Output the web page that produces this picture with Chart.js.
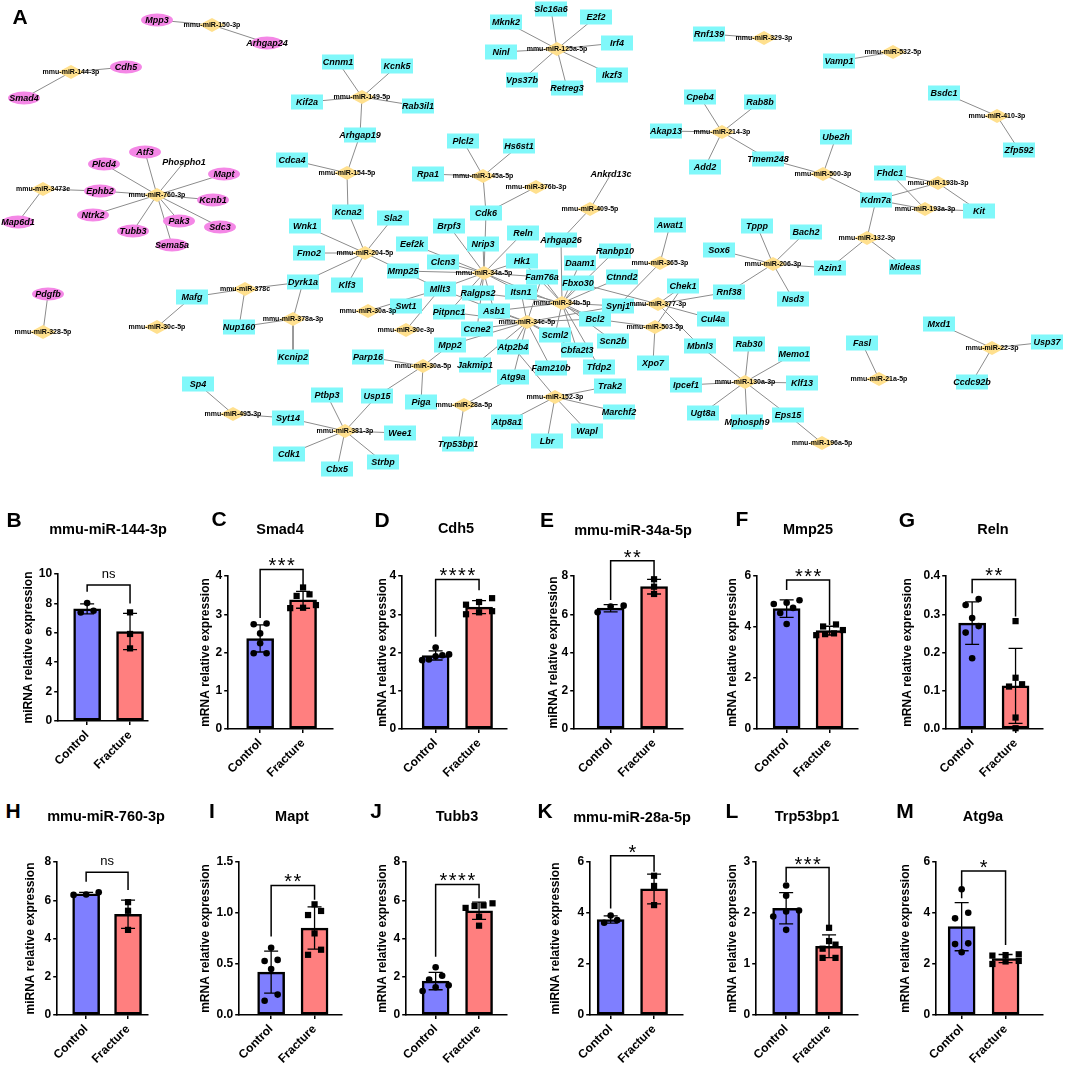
<!DOCTYPE html>
<html>
<head>
<meta charset="utf-8">
<title>miRNA-mRNA network and qPCR</title>
<script src="https://cdn.jsdelivr.net/npm/chart.js@4.4.1/dist/chart.umd.min.js"></script>
<style>
  body { margin: 0; background: #fff; }
  #page { position: relative; width: 1065px; height: 1066px; overflow: hidden; background: #fff; }
  #page canvas { position: absolute; }
  .letter { position: absolute; font: bold 21px Arial, "Liberation Sans", sans-serif; line-height: 1; transform: translate(-50%, -50%); }
  .title { position: absolute; font: bold 14.5px Arial, "Liberation Sans", sans-serif; line-height: 1; white-space: nowrap; transform: translate(-50%, -50%); }
</style>
</head>
<body>
<div id="page">
  <canvas id="network" width="1065" height="490" style="left:0;top:0"></canvas>
  <div class="letter" style="left:20px;top:16px">A</div>
</div>
<script>
const FONT = 'Arial, "Liberation Sans", sans-serif';
Chart.defaults.font.family = FONT;
Chart.defaults.color = "#000";

// ---- panel A: network layout (node positions in layout units) ----
const mirNodes = {
  "mmu-miR-150-3p": [212, 25], "mmu-miR-144-3p": [71, 72], "mmu-miR-3473e": [43, 189],
  "mmu-miR-760-3p": [157, 195], "mmu-miR-328-5p": [43, 332], "mmu-miR-30c-5p": [157, 327],
  "mmu-miR-378c": [245, 289], "mmu-miR-378a-3p": [293, 319], "mmu-miR-495-3p": [233, 414],
  "mmu-miR-381-3p": [345, 431], "mmu-miR-149-5p": [362, 97], "mmu-miR-154-5p": [347, 173],
  "mmu-miR-204-5p": [365, 253], "mmu-miR-30a-3p": [368, 311], "mmu-miR-30e-3p": [406, 330],
  "mmu-miR-30a-5p": [423, 366], "mmu-miR-28a-5p": [464, 405], "mmu-miR-125a-5p": [557, 49],
  "mmu-miR-145a-5p": [483, 176], "mmu-miR-376b-3p": [536, 187], "mmu-miR-409-5p": [590, 209],
  "mmu-miR-34a-5p": [484, 273], "mmu-miR-34b-5p": [562, 303], "mmu-miR-34c-5p": [527, 322],
  "mmu-miR-152-3p": [555, 397], "mmu-miR-365-3p": [660, 263], "mmu-miR-377-3p": [658, 304],
  "mmu-miR-503-5p": [655, 327], "mmu-miR-329-3p": [764, 38], "mmu-miR-532-5p": [893, 52],
  "mmu-miR-410-3p": [997, 116], "mmu-miR-214-3p": [722, 132], "mmu-miR-500-3p": [823, 174],
  "mmu-miR-193b-3p": [938, 183], "mmu-miR-193a-3p": [925, 209], "mmu-miR-132-3p": [867, 238],
  "mmu-miR-206-3p": [773, 264], "mmu-miR-130a-3p": [745, 382], "mmu-miR-196a-5p": [822, 443],
  "mmu-miR-21a-5p": [879, 379], "mmu-miR-22-3p": [992, 348]
};

const pinkNodes = {
  Mpp3: [157, 20], Arhgap24: [267, 43], Cdh5: [126, 67], Smad4: [24, 98], Map6d1: [18, 222],
  Ephb2: [100, 191], Plcd4: [104, 164], Atf3: [145, 152], Phospho1: [184, 162], Mapt: [224, 174],
  Kcnb1: [213, 200], Ntrk2: [93, 215], Pak3: [179, 221], Sdc3: [220, 227], Tubb3: [133, 231],
  Sema5a: [172, 245], Pdgfb: [48, 294]
};

const cyanNodes = {
  Cnnm1: [338, 62], Kif2a: [307, 102], Arhgap19: [360, 135], Cdca4: [292, 160], Kcna2: [348, 212],
  Wnk1: [305, 226], Kcnk5: [397, 66], Rab3il1: [418, 106], Slc16a6: [551, 9], E2f2: [596, 17],
  Mknk2: [506, 22], Ninl: [501, 52], Irf4: [617, 43], Vps37b: [522, 80], Retreg3: [567, 88],
  Ikzf3: [612, 75], Plcl2: [463, 141], Hs6st1: [519, 146], Rpa1: [428, 174], Cdk6: [486, 213],
  Ankrd13c: [611, 174], Sla2: [393, 218], Brpf3: [449, 226], Reln: [523, 233], Arhgap26: [561, 240],
  Awat1: [670, 225], Eef2k: [412, 244], Nrip3: [483, 244], Akap13: [666, 131], Ranbp10: [615, 251],
  Rnf139: [709, 34], Vamp1: [839, 61], Bsdc1: [944, 93], Zfp592: [1019, 150], Cpeb4: [700, 97],
  Rab8b: [760, 102], Add2: [705, 167], Tmem248: [768, 159], Ube2h: [836, 137], Fhdc1: [890, 173],
  Kdm7a: [876, 200], Kit: [979, 211], Tppp: [757, 226], Bach2: [806, 232], Sox6: [719, 250],
  Azin1: [830, 268], Mideas: [905, 267], Nsd3: [793, 299], Rnf38: [729, 292], Chek1: [683, 286],
  Cul4a: [713, 319], Mbnl3: [700, 346], Rab30: [749, 344], Memo1: [794, 354], Ipcef1: [686, 385],
  Klf13: [802, 383], Ugt8a: [703, 413], Mphosph9: [747, 422], Eps15: [788, 415], Fasl: [862, 343],
  Mxd1: [939, 324], Usp37: [1047, 342], Ccdc92b: [972, 382], Fmo2: [309, 253], Klf3: [347, 285],
  Dyrk1a: [303, 282], Mafg: [192, 297], Nup160: [239, 327], Kcnip2: [293, 357], Sp4: [198, 384],
  Syt14: [288, 418], Ptbp3: [327, 395], Cdk1: [289, 454], Cbx5: [337, 469], Clcn3: [443, 262],
  Hk1: [522, 261], Daam1: [580, 263], Mmp25: [403, 271], Fam76a: [542, 277], Fbxo30: [578, 283],
  Ctnnd2: [622, 277], Mllt3: [440, 289], Ralgps2: [478, 293], Itsn1: [521, 292], Synj1: [618, 306],
  Swt1: [406, 306], Pitpnc1: [449, 312], Asb1: [494, 311], Bcl2: [595, 319], Ccne2: [477, 329],
  Scml2: [555, 335], Scn2b: [613, 341], Mpp2: [450, 345], Atp2b4: [513, 347], Cbfa2t3: [577, 350],
  Parp16: [368, 357], Jakmip1: [475, 365], Fam210b: [551, 368], Tfdp2: [599, 367], Xpo7: [653, 363],
  Atg9a: [513, 377], Usp15: [377, 396], Piga: [421, 402], Trak2: [610, 386], Marchf2: [619, 412],
  Atp8a1: [507, 422], Wapl: [587, 431], Lbr: [547, 441], Wee1: [400, 433], Trp53bp1: [458, 444],
  Strbp: [383, 462]
};

// labels drawn without a node shape in the picture
const bareNodes = ["Phospho1", "Ankrd13c"];

const mirTargets = {
  "mmu-miR-150-3p": ["Mpp3", "Arhgap24"],
  "mmu-miR-144-3p": ["Cdh5", "Smad4"],
  "mmu-miR-3473e": ["Ephb2", "Map6d1"],
  "mmu-miR-760-3p": ["Plcd4", "Atf3", "Phospho1", "Mapt", "Kcnb1", "Sdc3", "Pak3", "Sema5a", "Tubb3", "Ntrk2", "Ephb2"],
  "mmu-miR-328-5p": ["Pdgfb"],
  "mmu-miR-30c-5p": ["Mafg"],
  "mmu-miR-378c": ["Mafg", "Dyrk1a", "Nup160"],
  "mmu-miR-378a-3p": ["Dyrk1a", "Nup160", "Kcnip2"],
  "mmu-miR-495-3p": ["Sp4", "Syt14"],
  "mmu-miR-381-3p": ["Syt14", "Ptbp3", "Usp15", "Wee1", "Strbp", "Cbx5", "Cdk1"],
  "mmu-miR-149-5p": ["Cnnm1", "Kcnk5", "Kif2a", "Rab3il1", "Arhgap19"],
  "mmu-miR-154-5p": ["Arhgap19", "Cdca4", "Kcna2"],
  "mmu-miR-204-5p": ["Kcna2", "Sla2", "Wnk1", "Fmo2", "Klf3", "Dyrk1a", "Mllt3"],
  "mmu-miR-30a-3p": ["Mllt3"],
  "mmu-miR-30e-3p": ["Mllt3"],
  "mmu-miR-30a-5p": ["Parp16", "Mpp2", "Piga", "Usp15"],
  "mmu-miR-28a-5p": ["Atg9a", "Trp53bp1"],
  "mmu-miR-125a-5p": ["Slc16a6", "E2f2", "Mknk2", "Ninl", "Irf4", "Vps37b", "Retreg3", "Ikzf3"],
  "mmu-miR-145a-5p": ["Plcl2", "Hs6st1", "Rpa1", "Cdk6"],
  "mmu-miR-376b-3p": ["Cdk6"],
  "mmu-miR-409-5p": ["Ankrd13c", "Arhgap26"],
  "mmu-miR-34a-5p": ["Eef2k", "Nrip3", "Brpf3", "Clcn3", "Mmp25", "Mllt3", "Ralgps2", "Pitpnc1", "Ccne2", "Asb1", "Hk1", "Fam76a", "Reln", "Itsn1", "Cdk6", "Bcl2"],
  "mmu-miR-34b-5p": ["Daam1", "Ranbp10", "Fbxo30", "Ctnnd2", "Fam76a", "Arhgap26", "Itsn1", "Asb1", "Scml2", "Cbfa2t3", "Tfdp2", "Scn2b", "Bcl2", "Synj1", "Ralgps2", "Hk1"],
  "mmu-miR-34c-5p": ["Itsn1", "Asb1", "Pitpnc1", "Ccne2", "Mpp2", "Jakmip1", "Atp2b4", "Fam210b", "Scml2", "Cbfa2t3", "Bcl2", "Fam76a", "Synj1", "Atg9a", "Mllt3"],
  "mmu-miR-152-3p": ["Trak2", "Marchf2", "Wapl", "Lbr", "Atp8a1", "Atp2b4"],
  "mmu-miR-365-3p": ["Awat1", "Synj1"],
  "mmu-miR-377-3p": ["Fbxo30", "Chek1", "Synj1", "Cul4a", "Mbnl3", "Rnf38"],
  "mmu-miR-503-5p": ["Chek1", "Xpo7", "Bcl2"],
  "mmu-miR-329-3p": ["Rnf139"],
  "mmu-miR-532-5p": ["Vamp1"],
  "mmu-miR-410-3p": ["Bsdc1", "Zfp592"],
  "mmu-miR-214-3p": ["Akap13", "Cpeb4", "Rab8b", "Add2", "Tmem248"],
  "mmu-miR-500-3p": ["Tmem248", "Ube2h", "Kdm7a"],
  "mmu-miR-193b-3p": ["Fhdc1", "Kdm7a", "Kit"],
  "mmu-miR-193a-3p": ["Fhdc1", "Kdm7a", "Kit"],
  "mmu-miR-132-3p": ["Kdm7a", "Azin1", "Mideas"],
  "mmu-miR-206-3p": ["Tppp", "Bach2", "Sox6", "Azin1", "Nsd3", "Rnf38"],
  "mmu-miR-130a-3p": ["Mbnl3", "Rab30", "Memo1", "Klf13", "Ipcef1", "Ugt8a", "Mphosph9", "Eps15"],
  "mmu-miR-196a-5p": ["Eps15"],
  "mmu-miR-21a-5p": ["Fasl"],
  "mmu-miR-22-3p": ["Mxd1", "Usp37", "Ccdc92b"]
};

// ---- panels B-M: qPCR values ----
const panelLetters = ["B", "C", "D", "E", "F", "G", "H", "I", "J", "K", "L", "M"];
const panelTitles = ["mmu-miR-144-3p", "Smad4", "Cdh5", "mmu-miR-34a-5p", "Mmp25", "Reln",
  "mmu-miR-760-3p", "Mapt", "Tubb3", "mmu-miR-28a-5p", "Trp53bp1", "Atg9a"];
const yTitles = ["miRNA relative expression", "mRNA relative expression", "mRNA relative expression",
  "miRNA relative expression", "mRNA relative expression", "mRNA relative expression",
  "miRNA relative expression", "mRNA relative expression", "mRNA relative expression",
  "miRNA relative expression", "mRNA relative expression", "mRNA relative expression"];
const groups = ["Control", "Fracture"];

const controlValues = [
  [8.02, 7.38, 7.5],
  [2.74, 2.76, 2.5, 2.24, 1.98, 1.98],
  [2.13, 1.93, 1.9, 1.95, 1.82, 1.8],
  [6.45, 6.4, 6.1],
  [5.05, 4.95, 4.9, 4.75, 4.55, 4.12],
  [0.34, 0.324, 0.29, 0.269, 0.252, 0.185],
  [6.28, 6.42, 6.3],
  [0.66, 0.54, 0.53, 0.45, 0.2, 0.14],
  [2.5, 2.05, 1.85, 1.55, 1.45, 1.25],
  [3.9, 3.72, 3.62],
  [2.54, 2.34, 2.05, 2.03, 1.93, 1.67],
  [4.93, 4.01, 3.79, 2.81, 2.78, 2.46]
];
const fractureValues = [
  [7.39, 5.92, 4.94],
  [3.7, 3.52, 3.48, 3.16, 3.17, 3.24],
  [3.42, 3.32, 3.25, 3.08, 3.05, 3.0],
  [7.83, 7.44, 7.06],
  [4.1, 4.02, 3.88, 3.75, 3.72, 3.68],
  [0.282, 0.134, 0.111, 0.117, 0.03, 0.002],
  [5.9, 5.45, 4.45],
  [1.085, 0.98, 1.02, 0.8, 0.64, 0.59],
  [5.84, 5.73, 5.7, 5.6, 5.14, 4.67],
  [5.46, 5.06, 4.31],
  [1.71, 1.45, 1.38, 1.3, 1.12, 1.12],
  [2.35, 2.38, 2.33, 2.0, 2.12, 2.1]
];

const yMax = [10, 4, 4, 8, 6, 0.4, 8, 1.5, 8, 6, 3, 6];
const yStep = [2, 1, 1, 2, 2, 0.1, 2, 0.5, 2, 2, 1, 2];
const yDecimals = [0, 0, 0, 0, 0, 1, 0, 1, 0, 0, 0, 0];

const sigLabels = ["ns", "***", "****", "**", "***", "**", "ns", "**", "****", "*", "***", "*"];
const bracketLevel = [9.25, 4.17, 3.91, 8.8, 5.84, 0.391, 7.46, 1.27, 6.83, 6.25, 2.89, 5.65];
const bracketLegEnds = [
  [8.8, 8.0], [2.9, 3.72], [2.41, 3.63], [6.75, 7.88], [5.45, 4.08], [0.355, 0.294],
  [6.97, 6.53], [0.77, 1.13], [3.05, 6.1], [4.18, 5.62], [2.61, 1.76], [4.58, 2.75]
];

// page layout of each panel:
// [axisX, controlX, fractureX, axisEndX, yTopPx, yZeroPx, yTitleGap, letterX, letterY, titleX, titleY]
const panelBoxes = [
  [58, 87, 130, 148, 574, 721, 30, 14, 519, 108, 529],
  [228, 260, 303, 333, 576, 729, 23, 219, 518, 280, 529],
  [402, 435.5, 479, 507, 576, 729, 20, 382, 519, 456, 528],
  [574, 610.5, 654, 683, 576, 729, 21, 547, 519, 633, 530],
  [757, 786.5, 829.5, 858, 576, 729, 25, 742, 518, 808, 529],
  [946, 972, 1015.5, 1043, 576, 729, 39, 907, 519, 993, 529],
  [57, 86, 128, 148, 862, 1015, 27, 13, 810, 106, 816],
  [239, 271, 314.5, 342, 862, 1015, 34, 212, 810, 292, 816],
  [406, 435.5, 479, 507, 862, 1015, 24, 376, 810, 457, 816],
  [590, 610.5, 654, 683, 862, 1015, 35, 545, 810, 632, 817],
  [756, 786, 829, 858, 862, 1015, 24, 732, 810, 807, 816],
  [936, 961.5, 1005.5, 1043, 862, 1015, 31, 905, 810, 983, 816]
];

const PINK = "#f487e6";
const CYAN = "#80f8fa";
const GOLD = "#ffe08e";
const BAR_COLORS = ["#7f7fff", "#ff7f7f"];

// ---------- network ----------
const edgePoints = [];
Object.entries(mirTargets).forEach(([mir, genes]) => {
  const m = mirNodes[mir];
  genes.forEach((g) => {
    const t = pinkNodes[g] || cyanNodes[g];
    edgePoints.push({ x: m[0], y: m[1] }, { x: t[0], y: t[1] }, { x: null, y: null });
  });
});

const nodePlugin = {
  id: "nodes",
  afterDatasetsDraw(chart) {
    const ctx = chart.ctx;
    const sx = chart.scales.x;
    const sy = chart.scales.y;
    const at = (p) => [sx.getPixelForValue(p[0]), sy.getPixelForValue(p[1])];
    ctx.save();
    Object.entries(pinkNodes).forEach(([name, p]) => {
      if (bareNodes.includes(name)) return;
      const [x, y] = at(p);
      ctx.beginPath();
      ctx.ellipse(x, y, 16, 6.5, 0, 0, Math.PI * 2);
      ctx.fillStyle = PINK;
      ctx.fill();
    });
    Object.entries(cyanNodes).forEach(([name, p]) => {
      if (bareNodes.includes(name)) return;
      const [x, y] = at(p);
      ctx.fillStyle = CYAN;
      ctx.fillRect(x - 16, y - 7.5, 32, 15);
    });
    Object.values(mirNodes).forEach((p) => {
      const [x, y] = at(p);
      ctx.beginPath();
      ctx.moveTo(x - 13, y);
      ctx.lineTo(x, y - 7);
      ctx.lineTo(x + 13, y);
      ctx.lineTo(x, y + 7);
      ctx.closePath();
      ctx.fillStyle = GOLD;
      ctx.fill();
    });
    ctx.fillStyle = "#000";
    ctx.textAlign = "center";
    ctx.textBaseline = "middle";
    ctx.font = "italic bold 9px " + FONT;
    [pinkNodes, cyanNodes].forEach((set) => {
      Object.entries(set).forEach(([name, p]) => {
        const [x, y] = at(p);
        ctx.fillText(name, x, y + 0.5);
      });
    });
    ctx.font = "bold 7px " + FONT;
    Object.entries(mirNodes).forEach(([name, p]) => {
      const [x, y] = at(p);
      ctx.fillText(name, x, y + 0.5);
    });
    ctx.restore();
  }
};

new Chart(document.getElementById("network"), {
  type: "scatter",
  data: {
    datasets: [{
      data: edgePoints,
      showLine: true,
      spanGaps: false,
      borderColor: "#8c8c8c",
      borderWidth: 1,
      pointRadius: 0,
      pointHoverRadius: 0
    }]
  },
  options: {
    responsive: false,
    animation: false,
    events: [],
    layout: { padding: 0 },
    plugins: { legend: { display: false }, tooltip: { enabled: false } },
    scales: {
      x: { type: "linear", display: false, min: 0, max: 1065 },
      y: { type: "linear", display: false, min: 0, max: 490, reverse: true }
    }
  },
  plugins: [nodePlugin]
});

// ---------- bar panels ----------
function mean(a) {
  return a.reduce((s, v) => s + v, 0) / a.length;
}
function sd(a) {
  const m = mean(a);
  return Math.sqrt(a.reduce((s, v) => s + (v - m) * (v - m), 0) / (a.length - 1));
}
// spread points with close values sideways, like a scatter dot plot
function swarm(vals, span) {
  const order = vals.map((v, i) => i).sort((a, b) => vals[a] - vals[b]);
  const off = vals.map(() => 0);
  let cluster = [];
  const flush = () => {
    const n = cluster.length;
    const step = n > 1 ? Math.min(0.3, 0.62 / (n - 1)) : 0;
    cluster.forEach((idx, j) => { off[idx] = (j - (n - 1) / 2) * step; });
    cluster = [];
  };
  order.forEach((i) => {
    if (cluster.length && vals[i] - vals[cluster[0]] > span * 0.045) flush();
    cluster.push(i);
  });
  flush();
  return off;
}

const errorBarPlugin = {
  id: "errorBars",
  afterDatasetDraw(chart, args, opts) {
    if (args.index !== 0) return;
    const ctx = chart.ctx;
    const sx = chart.scales.x;
    const sy = chart.scales.y;
    ctx.save();
    ctx.strokeStyle = "#000";
    ctx.lineWidth = 1.3;
    opts.sets.forEach((vals, g) => {
      const m = mean(vals);
      const s = sd(vals);
      const x = sx.getPixelForValue(g + 1);
      const yHi = sy.getPixelForValue(m + s);
      const yLo = sy.getPixelForValue(Math.max(0, m - s));
      ctx.beginPath();
      ctx.moveTo(x, yLo); ctx.lineTo(x, yHi);
      ctx.moveTo(x - 7, yHi); ctx.lineTo(x + 7, yHi);
      ctx.moveTo(x - 7, yLo); ctx.lineTo(x + 7, yLo);
      ctx.stroke();
    });
    ctx.restore();
  },
  afterDraw(chart, args, opts) {
    const ctx = chart.ctx;
    const sx = chart.scales.x;
    const sy = chart.scales.y;
    const x1 = sx.getPixelForValue(1);
    const x2 = sx.getPixelForValue(2);
    const yb = sy.getPixelForValue(opts.level);
    ctx.save();
    ctx.strokeStyle = "#000";
    ctx.lineWidth = 1.5;
    ctx.beginPath();
    ctx.moveTo(x1, sy.getPixelForValue(opts.legs[0]));
    ctx.lineTo(x1, yb);
    ctx.lineTo(x2, yb);
    ctx.lineTo(x2, sy.getPixelForValue(opts.legs[1]));
    ctx.stroke();
    ctx.fillStyle = "#000";
    ctx.textAlign = "center";
    ctx.textBaseline = "alphabetic";
    if (opts.label === "ns") {
      ctx.font = "13px " + FONT;
      ctx.fillText("ns", (x1 + x2) / 2, yb - 7);
    } else {
      ctx.font = "20px " + FONT;
      if ("letterSpacing" in ctx) ctx.letterSpacing = "1.5px";
      ctx.fillText(opts.label, (x1 + x2) / 2 + 0.75, yb + 3);
    }
    ctx.restore();
  }
};

const page = document.getElementById("page");
function addText(cls, text, x, y) {
  const d = document.createElement("div");
  d.className = cls;
  d.textContent = text;
  d.style.left = x + "px";
  d.style.top = y + "px";
  page.appendChild(d);
}

panelLetters.forEach((letter, i) => {
  const [axisX, cX, fX, endX, topY, zeroY, gap, lx, ly, tx, ty] = panelBoxes[i];
  const padTop = 48;
  const axisH = 70;
  const padRight = 6;
  const yw = gap + 7.2;
  const left = axisX - yw;
  const top = topY - padTop;
  const w = Math.round(endX + padRight - left);
  const h = Math.round(zeroY - topY + padTop + axisH);
  const cv = document.createElement("canvas");
  cv.width = w;
  cv.height = h;
  cv.style.left = left + "px";
  cv.style.top = top + "px";
  page.appendChild(cv);
  addText("letter", letter, lx, ly);
  addText("title", panelTitles[i], tx, ty);

  const unit = fX - cX;
  const xMin = 1 - (cX - axisX) / unit;
  const xMax = 2 + (endX - fX) / unit;
  const ctrl = controlValues[i];
  const frac = fractureValues[i];
  const ctrlOff = swarm(ctrl, yMax[i]);
  const fracOff = swarm(frac, yMax[i]);
  const axisLine = { display: true, color: "#000", width: 1.6 };
  const tickMarks = { display: true, drawOnChartArea: false, drawTicks: true, tickLength: 4, color: "#000", lineWidth: 1.5, offset: false };

  new Chart(cv, {
    type: "bar",
    data: {
      datasets: [
        {
          type: "bar",
          data: [{ x: 1, y: mean(ctrl) }, { x: 2, y: mean(frac) }],
          backgroundColor: BAR_COLORS,
          borderColor: "#000",
          borderWidth: 2.5,
          borderSkipped: false,
          barThickness: 27,
          order: 2
        },
        {
          type: "scatter",
          data: ctrl.map((v, k) => ({ x: 1 + ctrlOff[k], y: v })),
          pointStyle: "circle",
          pointRadius: 3.3,
          backgroundColor: "#000",
          borderWidth: 0,
          clip: false,
          order: 1
        },
        {
          type: "scatter",
          data: frac.map((v, k) => ({ x: 2 + fracOff[k], y: v })),
          pointStyle: "rect",
          pointRadius: 4.4,
          backgroundColor: "#000",
          borderWidth: 0,
          clip: false,
          order: 0
        }
      ]
    },
    options: {
      responsive: false,
      animation: false,
      events: [],
      layout: { padding: { top: padTop, right: padRight, left: 0, bottom: 0 } },
      plugins: {
        legend: { display: false },
        tooltip: { enabled: false },
        errorBars: {
          sets: [ctrl, frac],
          level: bracketLevel[i],
          legs: bracketLegEnds[i],
          label: sigLabels[i]
        }
      },
      scales: {
        x: {
          type: "linear",
          min: xMin,
          max: xMax,
          offset: false,
          afterBuildTicks: (s) => { s.ticks = [{ value: 1 }, { value: 2 }]; },
          afterFit: (s) => { s.height = axisH; },
          ticks: {
            autoSkip: false,
            minRotation: 45,
            maxRotation: 45,
            padding: 3,
            color: "#000",
            font: { size: 12, weight: "bold" },
            callback: (v) => groups[Math.round(v) - 1]
          },
          grid: tickMarks,
          border: axisLine
        },
        y: {
          type: "linear",
          min: 0,
          max: yMax[i],
          afterFit: (s) => { s.width = yw; },
          ticks: {
            stepSize: yStep[i],
            padding: 2,
            color: "#000",
            font: { size: 12, weight: "bold" },
            callback: (v) => Number(v).toFixed(yDecimals[i])
          },
          grid: tickMarks,
          border: axisLine,
          title: {
            display: true,
            text: yTitles[i],
            color: "#000",
            padding: 0,
            font: { size: 12, weight: "bold" }
          }
        }
      }
    },
    plugins: [errorBarPlugin]
  });
});
</script>
</body>
</html>
